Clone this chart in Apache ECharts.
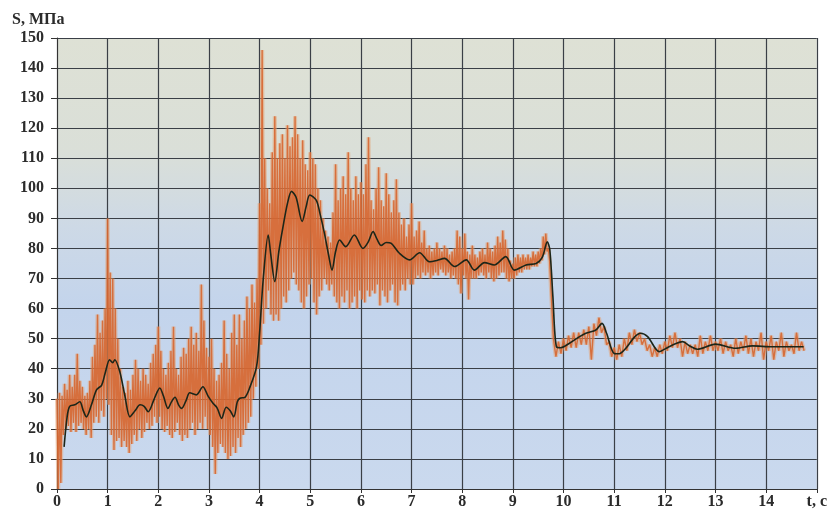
<!DOCTYPE html>
<html>
<head>
<meta charset="utf-8">
<script src="https://cdn.jsdelivr.net/npm/echarts@6/dist/echarts.min.js"></script>
<style>
html,body{margin:0;padding:0;background:#ffffff;}
#chart{width:830px;height:515px;}
</style>
</head>
<body>
<div id="chart"></div>
<script>
// Axis ticks
const xTicks = [0,1,2,3,4,5,6,7,8,9,10,11,12,13,14,15];
const yTicks = [0,10,20,30,40,50,60,70,80,90,100,110,120,130,140,150];
const xAxisTitle = 't, c';
const yAxisTitle = 'S, МПа';

// Raw (orange) signal: alternating upper / lower excursions, 0.00 .. 9.70 s every 0.05 s
const rawStart = 0.0, rawStep = 0.05;
const rawHi = [
  30,32,31,35,33,38,34,38,45,36,34,31,32,36,44,48,58,52,56,60,
  90,72,70,60,50,40,34,32,36,33,38,43,40,36,40,38,35,42,45,48,
  54,46,40,38,42,46,54,40,38,44,47,45,50,54,48,52,46,68,56,47,
  44,50,40,36,38,42,56,45,40,52,58,48,58,50,56,64,60,68,62,70,
  95,146,110,100,95,112,124,110,115,118,110,121,114,117,124,118,110,116,108,106,
  112,110,108,100,96,90,86,84,82,92,108,96,100,104,98,112,100,96,104,98,
  102,98,108,117,96,93,100,107,96,94,105,98,92,96,103,92,88,90,84,88,
  95,84,86,89,82,86,80,81,79,80,82,80,79,81,80,78,79,80,86,84,
  80,85,79,78,81,78,77,79,80,78,82,80,79,81,84,82,86,83,80,76,
  75,77,78,77,78,77,78,77,79,78,79,80,84,85,80
];
const rawLo = [
  0,2,18,20,21,19,22,19,21,22,20,18,20,17,22,24,22,26,24,30,
  28,18,13,16,17,14,16,14,12,15,18,16,20,17,19,22,20,21,24,22,
  24,20,19,21,18,17,19,22,18,16,18,17,20,22,18,20,22,20,24,20,
  18,14,5,12,15,14,12,10,11,14,12,17,14,18,20,22,24,30,34,40,
  48,55,60,66,58,56,58,56,60,64,62,66,70,72,68,66,62,60,64,68,
  70,62,58,64,66,70,68,66,68,64,62,60,64,62,66,60,62,64,60,66,
  63,62,66,64,66,65,68,61,66,64,62,66,68,62,61,66,68,66,70,68,
  68,70,71,70,72,71,72,70,71,72,71,73,72,71,72,70,71,70,68,65,
  71,70,63,70,70,70,71,72,71,70,72,70,69,70,71,72,72,70,69,70,
  70,71,72,72,73,73,73,74,74,74,75,76,78,79,76
];
// Raw signal after the drop, 9.8 .. 14.7 s every 0.1 s
const tailStart = 9.8, tailStep = 0.1;
const tailHi = [
  50,49,
  50,51,52,52,53,54,55,57,54,49,
  47,48,50,52,53,52,50,48,47,48,
  49,51,52,50,49,48,48,51,49,51,
  49,50,49,48,50,49,51,50,49,52,
  49,51,49,52,49,48,52,49
];
const tailLo = [
  44,45,
  46,47,47,48,48,43,51,52,48,44,
  43,44,46,48,49,48,46,44,44,45,
  46,47,47,44,45,45,44,45,46,46,
  46,45,46,44,45,46,45,44,46,43,
  46,43,46,44,46,45,46,46
];

// Smoothed (black) curve: [t, S]
const smoothT = [0.14,0.2,0.25,0.35,0.45,0.52,0.58,0.68,0.78,0.88,0.95,1.04,1.1,1.14,1.24,1.34,1.44,1.54,1.64,1.72,1.8,1.92,2.03,2.1,2.19,2.26,2.33,2.4,2.46,2.55,2.62,2.75,2.88,2.98,3.08,3.16,3.25,3.34,3.42,3.49,3.56,3.61,3.71,3.8,3.94,4.0,4.07,4.17,4.22,4.3,4.38,4.46,4.55,4.63,4.72,4.84,4.92,4.99,5.12,5.2,5.28,5.36,5.43,5.5,5.58,5.7,5.87,6.04,6.14,6.24,6.32,6.4,6.5,6.6,6.76,6.96,7.16,7.35,7.5,7.65,7.85,8.08,8.24,8.44,8.63,8.86,9.03,9.26,9.46,9.58,9.68,9.73,9.79,9.86,9.95,10.11,10.3,10.44,10.64,10.76,10.85,11.0,11.1,11.23,11.4,11.52,11.66,11.89,12.05,12.22,12.35,12.5,12.64,13.0,13.4,13.73,14.12,14.74];
const smoothS = [14,24,27.5,28,29,26,24,28,33,34.5,38.5,43,42,43,39,31,24,26,28,27.5,25.7,30,33.6,31,26.8,29,30.5,28,26.8,29.5,32,31.3,34,31,28.5,27,23.5,27.2,26,24,29,30.2,30.5,33.5,40.7,52,69.5,84.5,78,69,79,87,95,99,97,89,94,97.8,96,91,85,78,72.8,79,82.8,80.6,84.5,80,82,85.6,83,81,82,81.7,78.4,76.2,78.6,75.6,76,76.7,74,76.2,72.8,75.3,74.5,77.3,72.8,74.5,75,77,82.2,79.5,64,47.3,47,48.4,50.5,51.8,52.9,55.1,51.8,45.1,45,46.8,50.5,51.8,50.7,45.7,47,48.4,49,47.5,46.5,48.2,46.8,47.6,47.3,47.3];

// Build zigzag for the raw signal
const rawData = [];
for (let i = 0; i < rawHi.length; i++) {
  const t = rawStart + i * rawStep;
  rawData.push([+t.toFixed(3), rawHi[i]]);
  rawData.push([+(t + rawStep / 2).toFixed(3), rawLo[i]]);
}
for (let i = 0; i < tailHi.length; i++) {
  const t = tailStart + i * tailStep;
  rawData.push([+t.toFixed(3), tailHi[i]]);
  rawData.push([+(t + tailStep / 2).toFixed(3), tailLo[i]]);
}
const smoothData = smoothT.map((t, i) => [t, smoothS[i]]);

const font = '"Liberation Serif", "Times New Roman", serif';
const chart = echarts.init(document.getElementById('chart'), null, {renderer: 'canvas'});
chart.setOption({
  animation: false,
  backgroundColor: '#ffffff',
  grid: {
    left: 57, top: 38, right: 12, bottom: 26,
    show: true,
    borderWidth: 0,
    backgroundColor: {
      type: 'linear', x: 0, y: 0, x2: 0, y2: 1,
      colorStops: [
        {offset: 0, color: '#dee1d5'},
        {offset: 0.25, color: '#dadfd8'},
        {offset: 0.42, color: '#cdd9e6'},
        {offset: 0.6, color: '#c3d4ec'},
        {offset: 1, color: '#cad9ee'}
      ]
    }
  },
  xAxis: {
    type: 'value', min: xTicks[0], max: xTicks[xTicks.length - 1], interval: 1,
    axisLine: {show: true, lineStyle: {color: '#333', width: 1}},
    axisTick: {show: true, length: 4, lineStyle: {color: '#333'}},
    axisLabel: {
      margin: 5, color: '#2b2b2b', fontFamily: font, fontWeight: 'bold', fontSize: 16,
      formatter: v => (v === xTicks[xTicks.length - 1] ? xAxisTitle : String(v))
    },
    splitLine: {show: true, lineStyle: {color: '#3a3f46', width: 1.2}}
  },
  yAxis: {
    type: 'value', min: yTicks[0], max: yTicks[yTicks.length - 1], interval: 10,
    axisLine: {show: true, lineStyle: {color: '#333', width: 1}},
    axisTick: {show: true, length: 6, lineStyle: {color: '#333'}},
    axisLabel: {margin: 13, color: '#2b2b2b', fontFamily: font, fontWeight: 'bold', fontSize: 16},
    splitLine: {show: true, lineStyle: {color: '#3a3f46', width: 1.2}}
  },
  graphic: [{
    type: 'text', left: 12, top: 12,
    style: {text: yAxisTitle, fill: '#2b2b2b', font: 'bold 16px ' + font}
  }],
  series: [
    {
      type: 'line', data: rawData, symbol: 'none', silent: true,
      lineStyle: {color: 'rgba(230,158,108,0.5)', width: 4},
      z: 2
    },
    {
      type: 'line', data: rawData, symbol: 'none', silent: true,
      lineStyle: {color: 'rgba(214,100,46,0.88)', width: 1.4},
      z: 3
    },
    {
      type: 'line', data: smoothData, symbol: 'none', smooth: 0.3, silent: true,
      lineStyle: {color: '#1c2619', width: 1.6},
      z: 4
    }
  ]
});
</script>
</body>
</html>
